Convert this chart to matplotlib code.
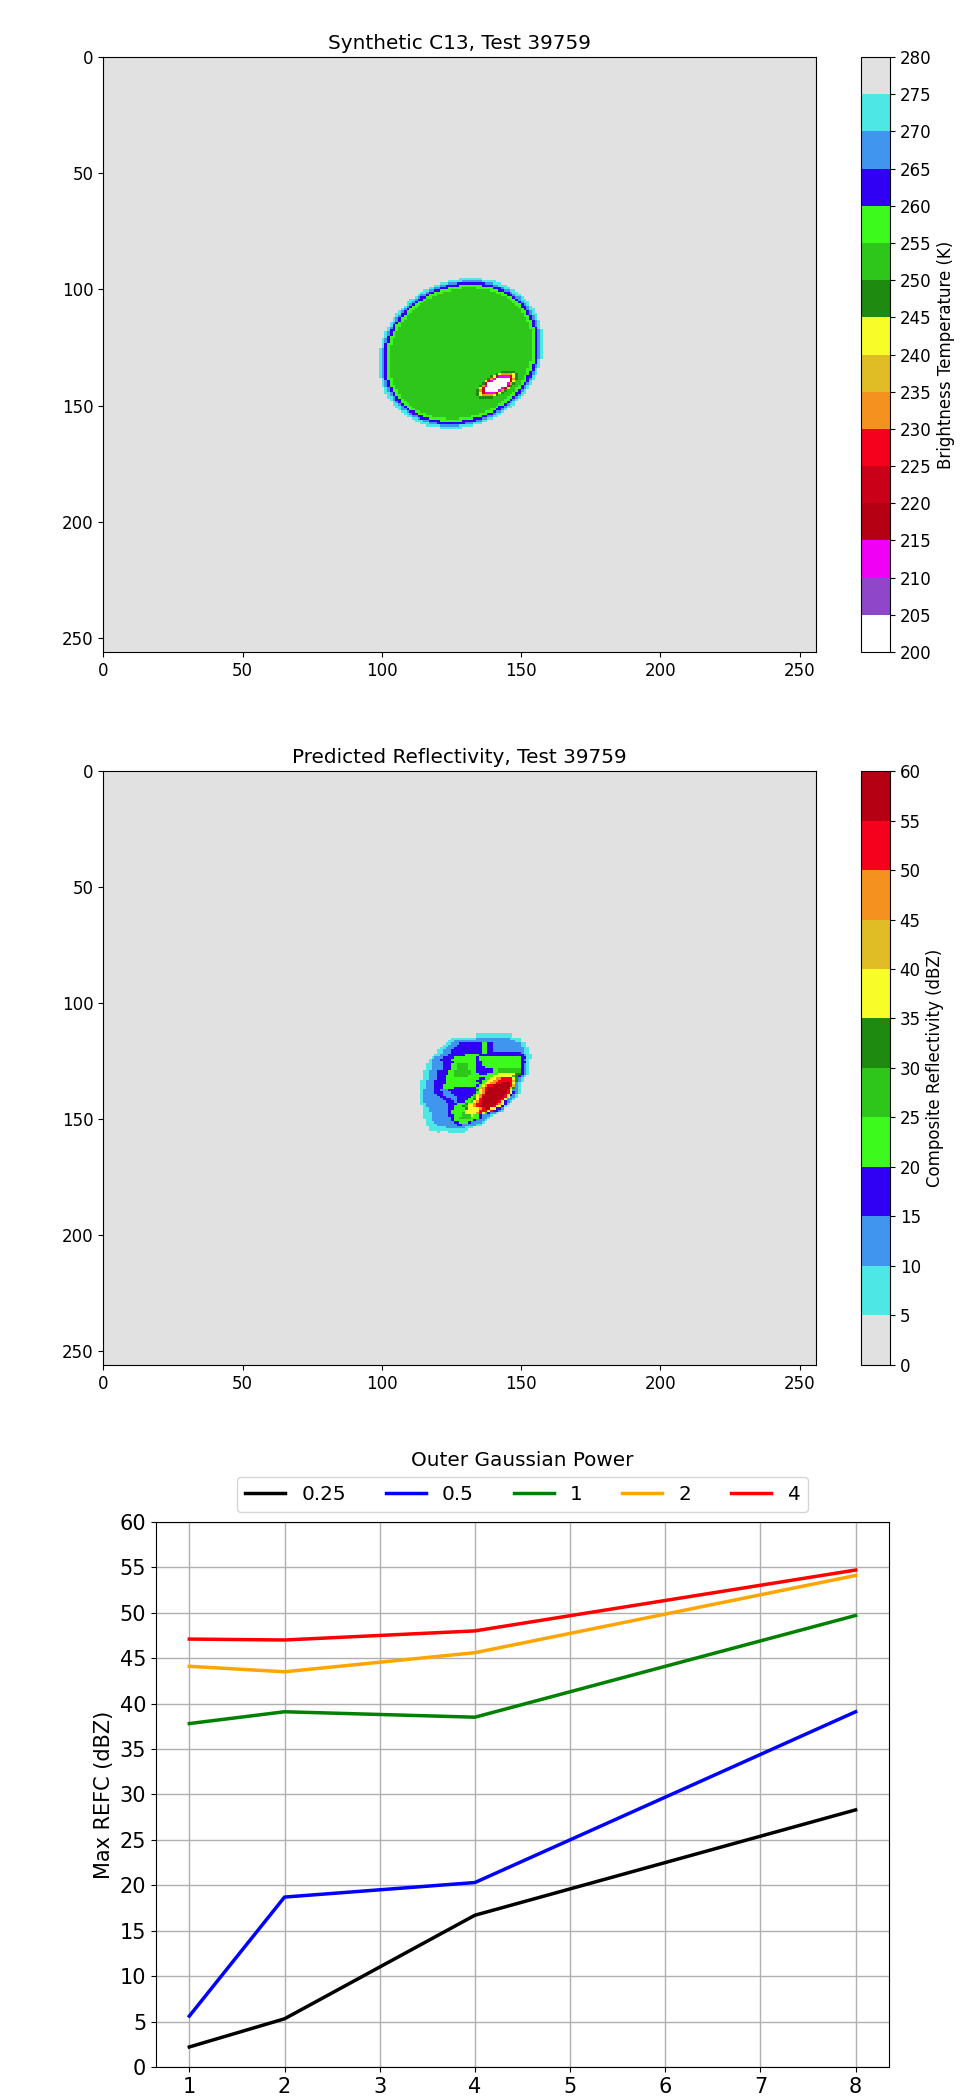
import numpy as np
import matplotlib
matplotlib.use("Agg")
import matplotlib.pyplot as plt
from matplotlib.colors import ListedColormap, BoundaryNorm

##########################################################################
# colour tables (one colour per 5-unit bin)
bt_colors = ['#ffffff', '#9046c8', '#f000f5', '#b40012', '#c90017', '#f5001d',
             '#f5911f', '#e0bc25', '#f8fd2a', '#1e8a10', '#2ec61a', '#3cfa1c',
             '#3000f5', '#4096ee', '#4de8e5', '#e1e1e1']
bt_bounds = np.arange(200, 285, 5)

ref_colors = ['#e1e1e1', '#4de8e5', '#4096ee', '#3000f5', '#3cfa1c', '#2ec61a',
              '#1e8a10', '#f8fd2a', '#e0bc25', '#f5911f', '#f5001d', '#b40012']
ref_bounds = np.arange(0, 65, 5)

test_id = 39759
grid_n = 256

##########################################################################
# synthetic C13 : big cold ellipse with a small colder spot inside
bt_background = 278
ell_center = (128.5, 127.5)
ell_axes = (32.2, 27.6)
ell_angle = 62.0
ell_edges = [0.90, 0.94, 0.975, 1.0, 1.035]
ell_values = [252, 257, 262, 267, 272]

spot_center = (141.5, 141.0)
spot_axes = (6.5, 3.2)
spot_angle = 35.0
spot_edges = [0.75, 0.87, 0.97, 1.07, 1.17, 1.30]
spot_values = [202, 212, 222, 232, 242, 247]

# predicted reflectivity, read cell by cell (run length: count + class)
refl_origin = (114, 113)   # first column (x), first row (y)
refl_classes = {'.': 2, 'c': 7, 'l': 12, 'B': 17, 'g': 22, 'G': 27, 'd': 32,
                'y': 37, 'o': 42, 'O': 47, 'r': 52, 'R': 57}
refl_rows = [
    "20. 13c 7.",
    "20. 13c 7.",
    "11. 9c 12l 4c 4.",
    "10. 2c 22l 2c 4.",
    "9. 2c 3l 8B 2g 2B 10l 2c 2.",
    "8. 2c 3l 9B 2g 2B 10l 2c 2.",
    "7. 2c 3l 10B 2g 2B 11l 2c 1.",
    "6. 2c 3l 11B 2g 2B 11l 2c 1.",
    "6. 2c 3l 11B 2g 12B 1l 2c 1.",
    "5. 2c 3l 6B 5g 16B 1l 2c",
    "4. 1c 3l 4B 8g 1B 15g 2B 2c",
    "3. 1c 3l 4B 9g 1B 15g 1B 1l 1c 1.",
    "3. 1c 4l 4B 8g 2B 14g 2B 1c 1.",
    "2. 2c 4l 3B 2g 4G 3g 2B 14g 1B 1l 1c 1.",
    "2. 2c 4l 3B 2g 4G 3g 3B 13g 1B 1l 1c 1.",
    "2. 2c 4l 3B 2g 4G 3g 6B 2g 8G 1B 1l 1c 1.",
    "1. 2c 3l 4B 2g 6G 2g 6B 2g 8G 1B 1l 1c 1.",
    "1. 2c 3l 4B 2g 6G 3g 3B 4g 6y 2d 1B 1l 1c 1.",
    "1. 2c 3l 3B 3g 5G 9g 7y 1G 1d 1B 1l 1c 2.",
    "1. 2c 3l 3B 12g 2B 2g 2y 2O 4r 1y 1d 1l 1c 3.",
    "2c 3l 4B 11g 2B 2g 2y 2O 5r 1o 1d 1l 1c 3.",
    "2c 3l 4B 12g 1B 1g 2y 2O 2r 3R 1r 1y 1l 1c 4.",
    "2c 3l 3B 12g 1B 1g 1y 1O 2r 6R 1r 1o 1l 1c 4.",
    "2c 3l 3B 4g 8B 1g 1o 1O 1r 8R 1o 1d 1l 1c 4.",
    "1c 4l 2B 3l 10B 1d 1y 1O 1r 7R 1r 1y 2l 1c 4.",
    "1c 4l 3B 3l 9B 1g 1y 1O 8R 1r 1y 1B 1l 1c 4.",
    "1c 5l 2B 4l 7B 1G 1y 1O 1r 7R 1r 1y 1B 1l 1c 5.",
    "1c 6l 2B 4l 5B 1g 1G 1y 1O 8R 1r 1y 2l 1c 5.",
    "1c 7l 3B 2l 4B 2g 1d 1y 1r 7R 1r 1y 2l 1c 6.",
    "1c 8l 3B 1l 3B 2g 1G 1y 1O 1r 6R 1r 1y 1B 1l 1c 7.",
    "2c 8l 3B 3g 1d 2y 1O 2r 5R 1r 1O 1y 1B 1c 8.",
    "1. 1c 8l 2B 3g 1d 1G 2y 1O 1r 5R 1r 2y 1B 1c 9.",
    "1. 2c 7l 2B 4g 1d 4y 1O 1r 2R 2y 2B 1l 10.",
    "1. 2c 7l 1B 5g 5y 3r 1y 1r 2B 1l 1c 10.",
    "1. 3c 6l 1B 4g 1G 4y 1O 1r 1y 1G 1B 2l 1c 12.",
    "1. 3c 6l 2B 3g 3G 1y 2g 1B 3l 1c 14.",
    "1. 3c 7l 1B 2g 4G 3g 1B 2l 1c 15.",
    "2. 2c 7l 1B 7g 1B 3l 1c 16.",
    "2. 3c 7l 2B 3g 1B 4l 1c 17.",
    "2. 4c 7l 2B 5l 2c 18.",
    "3. 6c 7l 3c 21.",
    "3. 14c 23.",
    "6. 1c 3. 6c 24.",
]

# max REFC vs inner power, one line per outer gaussian power
inner_power = [1, 2, 4, 8]
outer_power = ['0.25', '0.5', '1', '2', '4']
line_colors = ['black', 'blue', 'green', 'orange', 'red']
max_refc = [
    [2.2, 5.3, 16.7, 28.3],
    [5.6, 18.7, 20.3, 39.1],
    [37.8, 39.1, 38.5, 49.7],
    [44.1, 43.5, 45.6, 54.1],
    [47.1, 47.0, 48.0, 54.7],
]

##########################################################################
def ellipse_r(xx, yy, center, axes, angle):
    t = np.deg2rad(angle)
    dx = xx - center[0]
    dy = yy - center[1]
    u = dx * np.cos(t) - dy * np.sin(t)
    v = dx * np.sin(t) + dy * np.cos(t)
    return np.sqrt((u / axes[0]) ** 2 + (v / axes[1]) ** 2)


def ring_field(r, edges, values, outside):
    out = np.full(r.shape, float(outside))
    for e, val in reversed(list(zip(edges, values))):
        out[r < e] = val
    return out


yy, xx = np.mgrid[0:grid_n, 0:grid_n] + 0.5
bt = ring_field(ellipse_r(xx, yy, ell_center, ell_axes, ell_angle),
                ell_edges, ell_values, bt_background)
spot = ring_field(ellipse_r(xx, yy, spot_center, spot_axes, spot_angle),
                  spot_edges, spot_values, 999)
bt = np.minimum(bt, spot)

refl = np.full((grid_n, grid_n), 2.0)
for i, row in enumerate(refl_rows):
    j = 0
    for tok in row.split():
        n, ch = int(tok[:-1]), tok[-1]
        refl[refl_origin[1] + i, refl_origin[0] + j:refl_origin[0] + j + n] = refl_classes[ch]
        j += n

##########################################################################
plt.rcParams.update({'font.size': 12})
fig = plt.figure(figsize=(9.69, 20.98), dpi=100)

bt_cmap = ListedColormap(bt_colors)
bt_norm = BoundaryNorm(bt_bounds, bt_cmap.N)
ref_cmap = ListedColormap(ref_colors)
ref_norm = BoundaryNorm(ref_bounds, ref_cmap.N)

# PANEL 1
ax1 = fig.add_axes([0.1066, 0.6892, 0.7358, 0.2836])
im1 = ax1.imshow(bt, cmap=bt_cmap, norm=bt_norm, extent=(0, grid_n, grid_n, 0),
                 aspect='auto', interpolation='nearest')
ax1.set_title("Synthetic C13, Test %d" % test_id, fontsize=14.4)
cax1 = fig.add_axes([0.8885, 0.6892, 0.0299, 0.2836])
cb1 = fig.colorbar(im1, cax=cax1, ticks=bt_bounds)
cb1.set_label("Brightness Temperature (K)")

# PANEL 2
ax2 = fig.add_axes([0.1066, 0.3494, 0.7358, 0.2831])
im2 = ax2.imshow(refl, cmap=ref_cmap, norm=ref_norm, extent=(0, grid_n, grid_n, 0),
                 aspect='auto', interpolation='nearest')
ax2.set_title("Predicted Reflectivity, Test %d" % test_id, fontsize=14.4)
cax2 = fig.add_axes([0.8885, 0.3494, 0.0299, 0.2831])
cb2 = fig.colorbar(im2, cax=cax2, ticks=ref_bounds)
cb2.set_label("Composite Reflectivity (dBZ)")

# PANEL 3
ax3 = fig.add_axes([0.161, 0.0148, 0.7564, 0.2598])
for name, vals, col in zip(outer_power, max_refc, line_colors):
    ax3.plot(inner_power, vals, color=col, lw=2.5, label=name)
ax3.set_ylim(0, 60)
ax3.set_yticks(np.arange(0, 65, 5))
ax3.set_xticks(range(1, 9))
ax3.tick_params(labelsize=15)
ax3.grid(True, lw=1.0)
ax3.set_ylabel("Max REFC (dBZ)", fontsize=15)
ax3.set_title("Outer Gaussian Power", fontsize=14.4, pad=40)
ax3.legend(loc='lower center', bbox_to_anchor=(0.5, 1.0), ncol=5, fontsize=14.4)

### SAVE AND LEAVE
fig.savefig("out.png", dpi=100)
